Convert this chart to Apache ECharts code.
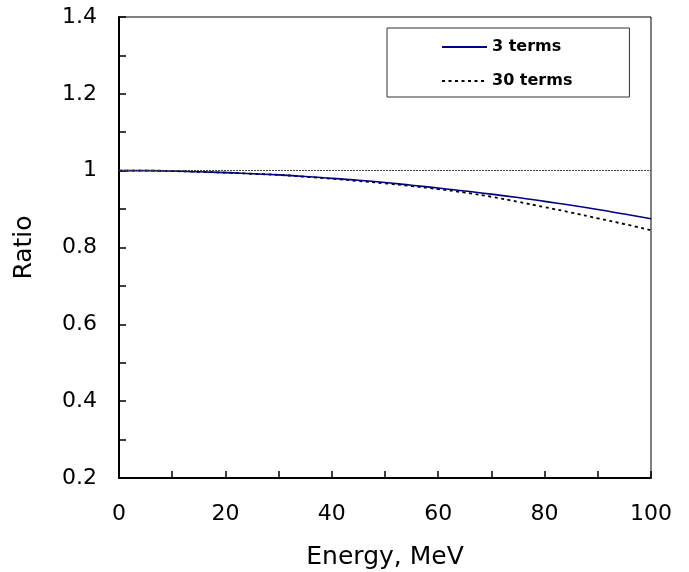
<!DOCTYPE html>
<html>
<head>
<meta charset="utf-8">
<script src="https://cdn.jsdelivr.net/npm/echarts@6/dist/echarts.min.js"></script>
<style>
  html, body { margin: 0; padding: 0; background: #fff; }
  #chart { width: 689px; height: 572px; }
</style>
</head>
<body>
<div id="chart"></div>
<script>
// Energy grid (MeV)
const energy = [0, 5, 10, 15, 20, 25, 30, 35, 40, 45, 50, 55, 60, 65, 70, 75, 80, 85, 90, 95, 100];
// Ratio computed with 3 expansion terms
const ratio3 = [1.000, 1.000, 0.999, 0.997, 0.995, 0.992, 0.989, 0.985, 0.980, 0.975, 0.969, 0.962, 0.955, 0.947, 0.939, 0.930, 0.920, 0.910, 0.899, 0.887, 0.875];
// Ratio computed with 30 expansion terms
const ratio30 = [1.000, 1.000, 0.999, 0.997, 0.995, 0.992, 0.989, 0.984, 0.979, 0.973, 0.967, 0.960, 0.952, 0.943, 0.932, 0.919, 0.905, 0.891, 0.876, 0.861, 0.845];
// Unity reference level
const unity = 1;
const seriesNames = ['3 terms', '30 terms'];

const font = 'DejaVu Sans';
const chart = echarts.init(document.getElementById('chart'), null, { renderer: 'canvas' });

const pairs = (ys) => energy.map((e, i) => [e, ys[i]]);

chart.setOption({
  animation: false,
  backgroundColor: '#fff',
  grid: {
    left: 119, right: 38, top: 17, bottom: 94,
    outerBoundsMode: 'none',
    show: true, borderColor: '#000', borderWidth: 1
  },
  legend: {
    orient: 'vertical',
    left: 387, top: 28,
    width: 242,
    padding: [10, 57, 7, 54],
    backgroundColor: '#fff',
    borderColor: '#333', borderWidth: 1,
    itemWidth: 45, itemHeight: 14, itemGap: 16,
    itemStyle: { opacity: 0 },
    textStyle: { fontFamily: font, fontSize: 16, fontWeight: 'bold', color: '#000', lineHeight: 18 },
    data: seriesNames
  },
  xAxis: {
    type: 'value', min: 0, max: 100, interval: 20,
    name: 'Energy, MeV', nameLocation: 'middle', nameGap: 67,
    nameTextStyle: { fontFamily: font, fontSize: 25, color: '#000' },
    axisLine: { show: true, lineStyle: { color: '#000', width: 2 } },
    axisTick: { show: true, inside: true, length: 7, lineStyle: { color: '#000', width: 1.5 } },
    minorTick: { show: true, splitNumber: 2, length: 7, lineStyle: { color: '#000', width: 1.5 } },
    axisLabel: { fontFamily: font, fontSize: 22, color: '#000', margin: 25 },
    splitLine: { show: false }
  },
  yAxis: {
    type: 'value', min: 0.2, max: 1.4, interval: 0.2,
    name: 'Ratio', nameLocation: 'middle', nameGap: 82,
    nameTextStyle: { fontFamily: font, fontSize: 25, color: '#000' },
    axisLine: { show: true, lineStyle: { color: '#000', width: 2 } },
    axisTick: { show: true, inside: true, length: 7, lineStyle: { color: '#000', width: 1.5 } },
    minorTick: { show: true, splitNumber: 2, length: 7, lineStyle: { color: '#000', width: 1.5 } },
    axisLabel: {
      fontFamily: font, fontSize: 22, color: '#000', margin: 22,
      formatter: (v) => String(Math.round(v * 10) / 10)
    },
    splitLine: { show: false }
  },
  series: [
    {
      name: seriesNames[0], type: 'line', data: pairs(ratio3),
      symbol: 'none', smooth: true, z: 3,
      lineStyle: { color: '#000080', width: 1.6 },
      itemStyle: { color: '#000080' },
      markLine: {
        silent: true, symbol: 'none', label: { show: false },
        lineStyle: { color: '#444', width: 1, type: [2, 1] },
        data: [{ yAxis: unity }]
      }
    },
    {
      name: seriesNames[1], type: 'line', data: pairs(ratio30),
      symbol: 'none', smooth: true, z: 2,
      lineStyle: { color: '#000', width: 1.8, type: [3, 3.5] },
      itemStyle: { color: '#000' }
    }
  ]
});
</script>
</body>
</html>
